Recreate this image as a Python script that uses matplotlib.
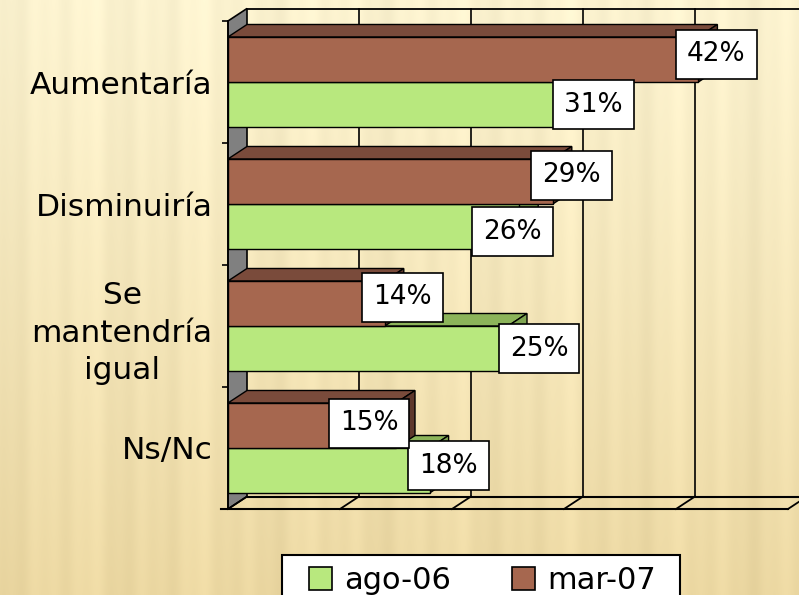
import matplotlib
matplotlib.use('Agg')
import matplotlib.pyplot as plt
import numpy as np
from matplotlib.patches import Polygon, Patch, Rectangle

categories = ['Aumentaría', 'Disminuiría', 'Se\nmantendría\nigual', 'Ns/Nc']
series_names = ['ago-06', 'mar-07']
ago06 = [31, 26, 25, 18]
mar07 = [42, 29, 14, 15]

# label nudges in pixels (Excel put some boxes off the bar end)
nudge_ago = [(18, 0), (-7, -5), (31, 0), (19, 5)]
nudge_mar = [(18, 5), (19, 6), (18, 6), (-27, 2)]

green, green_top, green_side = '#B8E87E', '#8CB45A', '#7FA552'
brown, brown_top, brown_side = '#A6674F', '#7A4B3B', '#5E382C'

W, H = 799, 595
fig = plt.figure(figsize=(W / 100, H / 100), dpi=100)

# textured beige background
bg = fig.add_axes([0, 0, 1, 1])
xx = np.linspace(0, 1, W)
yy = np.linspace(0, 1, H)[:, None]
top = np.array([252, 243, 208]) / 255
bot = np.array([236, 216, 162]) / 255
grad = top + (bot - top) * yy[..., None] ** 1.1
stripes = (np.sin(xx * 95) * 0.5 + np.sin(xx * 233 + 1.3) * 0.35 + np.sin(xx * 41 + 0.7) * 0.4)
img = grad - 0.022 * stripes[None, :, None]
bg.imshow(np.clip(img, 0, 1), aspect='auto', extent=[0, 1, 0, 1])
bg.axis('off')

# front plane of the 3D box
left, bottom, pw, ph = 228, 86, 560, 488
ax = fig.add_axes([left / W, bottom / H, pw / W, ph / H])
ax.set_xlim(0, 50)
ax.set_ylim(4, 0)
ax.patch.set_visible(False)
sx = pw / 50
sy = ph / 4
DX = 19 / sx
DY = 12.5 / sy
n = len(categories)

# side wall, back wall, floor
ax.add_patch(Polygon([(0, 0), (DX, -DY), (DX, n - DY), (0, n)], closed=True,
                     fc='#808080', ec='black', lw=1.2, clip_on=False, zorder=1))
ax.plot([DX, 60], [-DY, -DY], color='black', lw=1.3, clip_on=False, zorder=1)
for xv in range(10, 60, 10):
    ax.plot([xv + DX, xv + DX], [-DY, n - DY], color='black', lw=1.2, clip_on=False, zorder=1)
ax.plot([DX, 60], [n - DY, n - DY], color='black', lw=1.5, clip_on=False, zorder=1)
ax.plot([-0.6, 50], [n, n], color='black', lw=1.5, clip_on=False, zorder=1)
for xv in range(0, 60, 10):
    ax.plot([xv, xv + DX], [n, n - DY], color='black', lw=1.3, clip_on=False, zorder=1)

bh = 0.369
off = 0.131
for i in range(n):
    for vals, c_front, c_top, c_side, yc in [
        (ago06, green, green_top, green_side, i + off + 1.5 * bh),
        (mar07, brown, brown_top, brown_side, i + off + 0.5 * bh),
    ]:
        v = vals[i]
        y0, y1 = yc - bh / 2, yc + bh / 2
        ax.add_patch(Polygon([(0, y0), (v, y0), (v + DX, y0 - DY), (DX, y0 - DY)],
                             fc=c_top, ec='black', lw=1, clip_on=False, zorder=2))
        ax.add_patch(Polygon([(v, y0), (v, y1), (v + DX, y1 - DY), (v + DX, y0 - DY)],
                             fc=c_side, ec='black', lw=1, clip_on=False, zorder=2))
        ax.barh(yc, v, height=bh, color=c_front, edgecolor='black', lw=1, zorder=2)

# value labels
for i in range(n):
    for vals, nudge, yc in [(ago06, nudge_ago, i + off + 1.5 * bh),
                            (mar07, nudge_mar, i + off + 0.5 * bh)]:
        ax.annotate(f'{vals[i]}%', xy=(vals[i], yc), xytext=nudge[i],
                    textcoords='offset pixels', ha='center', va='center',
                    fontsize=19, color='black', zorder=5, annotation_clip=False,
                    bbox=dict(boxstyle='square,pad=0.42', fc='white', ec='black', lw=1.2))

for s in ['top', 'right', 'bottom']:
    ax.spines[s].set_visible(False)
ax.spines['left'].set_linewidth(1.2)
ax.set_xticks([])
ax.set_yticks([i + 0.5 for i in range(n)])
ax.set_yticklabels(categories, fontsize=22.5, multialignment='center', linespacing=1.35)
ax.tick_params(axis='y', which='major', length=0, pad=11)
ax.set_yticks(range(n + 1), minor=True)
ax.tick_params(axis='y', which='minor', length=4.5, width=1.2, color='black')

# legend: box drawn by hand so it can run off the bottom edge like the original
fig.patches.append(Rectangle((282 / W, -0.02), (680 - 282) / W, 0.02 + 40 / H,
                             transform=fig.transFigure, fc='white', ec='black',
                             lw=1.5, zorder=3))
handles = [Patch(fc=green, ec='black', lw=1.2), Patch(fc=brown, ec='black', lw=1.2)]
leg = fig.legend(handles, series_names, ncol=2, loc='upper left',
                 bbox_to_anchor=(300 / W, 1 - 557 / H), fontsize=22,
                 frameon=False, handlelength=0.75, handleheight=0.75,
                 handletextpad=0.4, columnspacing=2.0, borderpad=0.3, borderaxespad=0)
leg.set_zorder(4)

fig.savefig('out.png', dpi=100)
